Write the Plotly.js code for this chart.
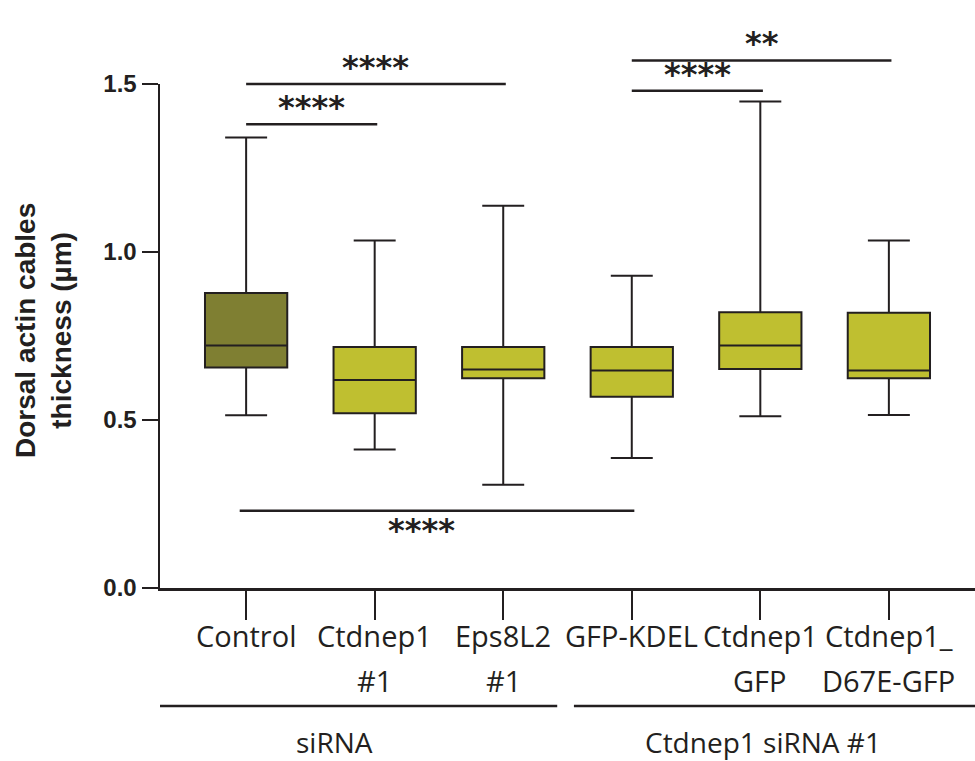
<!DOCTYPE html>
<html>
<head>
<meta charset="utf-8">
<script src="https://cdn.plot.ly/plotly-3.0.1.min.js"></script>
<style>html,body{margin:0;padding:0;background:#fff;}#chart{width:975px;height:761px;}</style>
</head>
<body>
<div id="chart"></div>
<script>
// ---- data ----
const labelLine1 = ["Control", "Ctdnep1", "Eps8L2", "GFP-KDEL", "Ctdnep1", "Ctdnep1_"];
const labelLine2 = ["", "#1", "#1", "", "GFP", "D67E-GFP"];
const q1Vals      = [0.656, 0.520, 0.624, 0.569, 0.652, 0.624];
const medianVals  = [0.722, 0.619, 0.650, 0.647, 0.722, 0.647];
const q3Vals      = [0.878, 0.717, 0.717, 0.717, 0.821, 0.819];
const lowerVals   = [0.514, 0.412, 0.307, 0.387, 0.511, 0.515];
const upperVals   = [1.341, 1.034, 1.138, 0.929, 1.448, 1.034];
const groupNames  = ["siRNA", "Ctdnep1 siRNA #1"];
const sigFrom  = [0, 0, 3, 3, 0];
const sigTo    = [2, 1, 5, 4, 3];
const sigLevel = [1.50, 1.38, 1.57, 1.48, 0.23];
const sigText  = ["****", "****", "**", "****", "****"];
const sigBelow = [false, false, false, false, true];
const yTicks = [0, 0.5, 1.0, 1.5];
const yTickText = ["0.0", "0.5", "1.0", "1.5"];

// ---- layout helpers ----
const xMin = -0.67, xMax = 5.67, yMax = 1.5;
const ink = "#231f20";
const px = v => (v - xMin) / (xMax - xMin);
const py = v => v / yMax;
const idx = labelLine1.map((_, i) => i);
const pick = (arr, ids) => ids.map(i => arr[i]);

function boxTrace(ids, color) {
  return {
    type: "box",
    x: ids,
    q1: pick(q1Vals, ids),
    median: pick(medianVals, ids),
    q3: pick(q3Vals, ids),
    lowerfence: pick(lowerVals, ids),
    upperfence: pick(upperVals, ids),
    fillcolor: color,
    line: {color: ink, width: 2},
    width: 0.64,
    whiskerwidth: 0.51,
    boxpoints: false,
    hoverinfo: "skip",
    showlegend: false
  };
}

const traces = [
  boxTrace([0], "#7f7f32"),
  boxTrace([1, 2, 3, 4, 5], "#bfbf30")
];

const shapes = [];
const annotations = [];

// significance bars
sigFrom.forEach((s, i) => {
  const x0 = s - (sigBelow[i] ? 0.05 : 0);
  const x1 = sigTo[i] + 0.02;
  shapes.push({type: "line", xref: "paper", yref: "paper",
    x0: px(x0), x1: px(x1), y0: py(sigLevel[i]), y1: py(sigLevel[i]),
    line: {color: ink, width: 2.5}});
  const mid = sigBelow[i] ? (x0 + x1) / 2 - 0.12 : (x0 + x1) / 2;
  annotations.push({xref: "paper", yref: "paper", x: px(mid), y: py(sigLevel[i]),
    text: sigText[i], showarrow: false, xanchor: "center",
    yanchor: sigBelow[i] ? "top" : "bottom",
    yshift: sigBelow[i] ? 2 : -4,
    font: {family: "DejaVu Sans", size: 32, color: ink, weight: "bold"}});
});

// category labels
idx.forEach(i => {
  annotations.push({xref: "paper", yref: "paper", x: px(i), y: 0, yshift: -47,
    text: labelLine1[i], showarrow: false, xanchor: "center", yanchor: "middle",
    font: {family: "Open Sans", size: 29, color: ink}});
  if (labelLine2[i]) {
    annotations.push({xref: "paper", yref: "paper", x: px(i), y: 0, yshift: -92,
      text: labelLine2[i], showarrow: false, xanchor: "center", yanchor: "middle",
      font: {family: "Open Sans", size: 29, color: ink}});
  }
});

// group brackets
const groupSpans = [[-0.67, 2.42], [2.55, 5.67]];
const groupCenters = [0.69, 4.02];
groupSpans.forEach((g, i) => {
  shapes.push({type: "line", xref: "paper", yref: "paper",
    x0: px(g[0]), x1: px(g[1]), y0: -118 / 504, y1: -118 / 504,
    line: {color: ink, width: 2.5}});
  annotations.push({xref: "paper", yref: "paper", x: px(groupCenters[i]), y: 0, yshift: -154,
    text: groupNames[i], showarrow: false, xanchor: "center", yanchor: "middle",
    font: {family: "Open Sans", size: 28, color: ink}});
});

// y-axis title
annotations.push({xref: "paper", yref: "paper", x: -117 / 815, y: (588 - 331) / 504,
  text: "<b>Dorsal actin cables<br>thickness (µm)</b>", textangle: -90,
  showarrow: false, xanchor: "center", yanchor: "middle",
  font: {family: "Liberation Sans", size: 28, color: ink}});

const layout = {
  width: 975, height: 761,
  margin: {l: 160, r: 0, t: 84, b: 173, pad: 0},
  paper_bgcolor: "#fff", plot_bgcolor: "#fff",
  showlegend: false,
  xaxis: {range: [xMin, xMax], tickvals: idx, showticklabels: false,
    ticks: "outside", ticklen: 29, tickwidth: 2, tickcolor: ink,
    showline: true, linecolor: ink, linewidth: 2.5, showgrid: false, zeroline: false},
  yaxis: {range: [0, yMax], tickvals: yTicks, ticktext: yTickText,
    ticks: "outside", ticklen: 16, tickwidth: 2.5, tickcolor: ink,
    tickfont: {family: "Liberation Sans", size: 24, color: ink, weight: "bold"},
    showline: true, linecolor: ink, linewidth: 2.5, showgrid: false, zeroline: false},
  shapes: shapes,
  annotations: annotations
};

Plotly.newPlot("chart", traces, layout, {displayModeBar: false, staticPlot: true});
</script>
</body>
</html>
